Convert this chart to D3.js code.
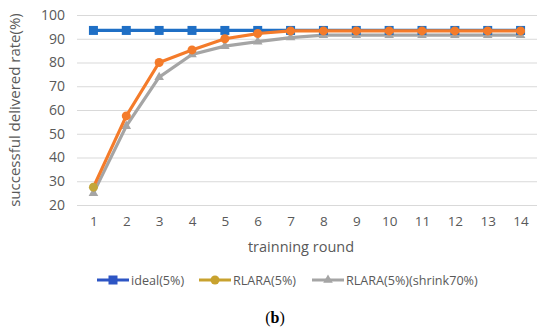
<!DOCTYPE html>
<html><head><meta charset="utf-8">
<script src="https://cdn.jsdelivr.net/npm/d3@7"></script>
<style>body{margin:0;background:#fff}svg{display:block}</style>
</head><body>
<svg id="c" width="550" height="333"></svg>
<script>
const rounds = [1,2,3,4,5,6,7,8,9,10,11,12,13,14];
const ideal = [93.5,93.5,93.5,93.5,93.5,93.5,93.5,93.5,93.5,93.5,93.5,93.5,93.5,93.5];
const rlara = [27.5,57.5,80,85.3,90,92.2,93.3,93.3,93.3,93.3,93.3,93.3,93.3,93.3];
const shrink = [25,53.2,73.8,83.4,86.9,88.8,90.5,91.5,91.5,91.5,91.5,91.5,91.5,91.5];
const yTicks = [20,30,40,50,60,70,80,90,100];
const seriesNames = ["ideal(5%)","RLARA(5%)","RLARA(5%)(shrink70%)"];

const svg = d3.select("#c");
const L = 77, R = 537, T = 15, B = 205;
const x = d3.scalePoint().domain(rounds).range([L, R]).padding(0.5);
const y = d3.scaleLinear().domain([20,100]).range([B, T]);
const font = "'Open Sans', sans-serif";

// grid
const yAxis = d3.axisLeft(y).tickValues(yTicks).tickSize(-(R-L)).tickPadding(10);
const gy = svg.append("g").attr("transform",`translate(${L},0)`).call(yAxis);
gy.select(".domain").remove();
gy.selectAll("line").attr("stroke","#d9d9d9").attr("stroke-width",1.2);
gy.selectAll("text").attr("font-family",font).attr("font-size",14).attr("fill","#595959").attr("x",-12);

const xAxis = d3.axisBottom(x).tickSize(0).tickPadding(11);
const gx = svg.append("g").attr("transform",`translate(0,${B})`).call(xAxis);
gx.select(".domain").remove();
gx.selectAll("text").attr("font-family",font).attr("font-size",13.5).attr("fill","#595959");

// titles
svg.append("text").attr("x",(L+R)/2 - 6).attr("y",252).attr("text-anchor","middle")
  .attr("font-family",font).attr("font-size",14.5).attr("fill","#595959").text("trainning round");
svg.append("text").attr("transform",`translate(20,${(T+B)/2}) rotate(-90)`).attr("text-anchor","middle")
  .attr("font-family",font).attr("font-size",15).attr("fill","#595959").text("successful delivered rate(%)");

const line = d3.line().x((d,i)=>x(rounds[i])).y(d=>y(d));
const cols = ["#1f6fc5","#f47b2a","#a5a5a5"];

// shrink (back)
svg.append("path").datum(shrink).attr("d",line).attr("fill","none").attr("stroke",cols[2]).attr("stroke-width",3.2);
const tri = d3.symbol().type(d3.symbolTriangle).size(40);
svg.selectAll(".tri").data(shrink).enter().append("path").attr("d",tri)
  .attr("transform",(d,i)=>`translate(${x(rounds[i])},${y(d)})`).attr("fill",cols[2]);

// ideal
svg.append("path").datum(ideal).attr("d",line).attr("fill","none").attr("stroke",cols[0]).attr("stroke-width",3.2);
svg.selectAll(".sq").data(ideal).enter().append("rect")
  .attr("x",(d,i)=>x(rounds[i])-4.5).attr("y",d=>y(d)-4.5).attr("width",9).attr("height",9).attr("fill",cols[0]);

// rlara
svg.append("path").datum(rlara).attr("d",line).attr("fill","none").attr("stroke",cols[1]).attr("stroke-width",3.2);
svg.selectAll(".ci").data(rlara).enter().append("circle")
  .attr("cx",(d,i)=>x(rounds[i])).attr("cy",d=>y(d)).attr("r",4.5)
  .attr("fill",(d,i)=>i===0?"#c2a63a":cols[1]);

// legend
const legCols = ["#2d55c4","#c8a22e","#a5a5a5"];
const legX = [97,199,312];
const ly = 280;
seriesNames.forEach((n,i)=>{
  const g = svg.append("g");
  g.append("line").attr("x1",legX[i]).attr("x2",legX[i]+32).attr("y1",ly).attr("y2",ly)
    .attr("stroke",legCols[i]).attr("stroke-width",3);
  const cx = legX[i]+16;
  if(i===0) g.append("rect").attr("x",cx-4.5).attr("y",ly-4.5).attr("width",9).attr("height",9).attr("fill",legCols[i]);
  else if(i===1) g.append("circle").attr("cx",cx).attr("cy",ly).attr("r",4.5).attr("fill",legCols[i]);
  else g.append("path").attr("d",tri).attr("transform",`translate(${cx},${ly})`).attr("fill",legCols[i]);
  g.append("text").attr("x",legX[i]+34).attr("y",ly+4.5).attr("font-family",font).attr("font-size",12.6)
    .attr("fill","#595959").text(n);
});

const cap = svg.append("text").attr("x",275).attr("y",323).attr("text-anchor","middle")
  .attr("font-family","'Liberation Serif', serif").attr("font-size",16).attr("fill","#000");
cap.append("tspan").text("(");
cap.append("tspan").attr("font-weight","bold").text("b");
cap.append("tspan").text(")");
</script>
</body></html>
